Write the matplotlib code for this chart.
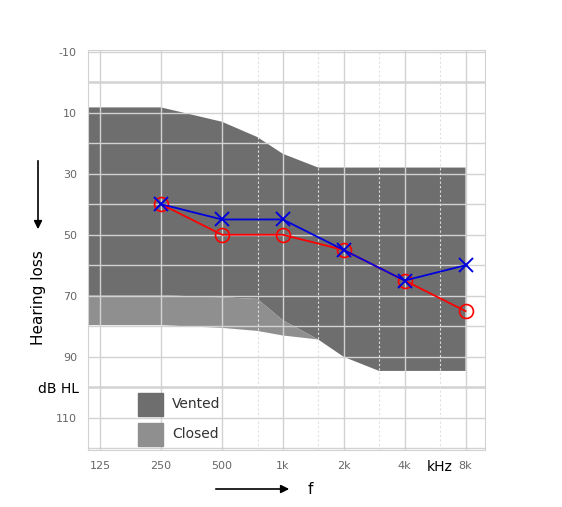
import numpy as np
import matplotlib.pyplot as plt
from matplotlib.patches import FancyArrowPatch

freq_labels = ["125", "250", "500", "1k", "2k", "4k", "8k"]
db_ticks = [-10, 10, 30, 50, 70, 90, 110]

# audiogram points (octave index, dB HL)
red_x = [1, 2, 3, 4, 5, 6]
red_db = [40, 50, 50, 55, 65, 75]
blue_x = [1, 2, 3, 4, 5, 6]
blue_db = [40, 45, 45, 55, 65, 60]

# fitting ranges
vent_top_x = [-0.2, 1, 2, 2.58, 3, 3.58, 6]
vent_top_db = [8.3, 8.3, 13, 18, 23.5, 28, 28]
vent_bot_x = [6, 4.58, 4, 3.58, 3, 2.58, 2, 1, -0.2]
vent_bot_db = [94.6, 94.6, 90, 84.3, 78, 71, 70.5, 69.8, 69.8]
closed_bot_x = [-0.2, 1, 2, 2.58, 3, 3.58]
closed_bot_db = [79.6, 79.6, 80.5, 81.5, 83, 84.3]

fig = plt.figure(figsize=(5.62, 5.07), dpi=100)
ax = fig.add_axes([88/562, 1-450/507, (485-88)/562, 400/507])
ax.set_xlim(-0.2, 6.32)
ax.set_ylim(120.5, -10.5)

ax.fill(vent_top_x + vent_bot_x, vent_top_db + vent_bot_db, color="#6e6e6e", lw=0, zorder=1)
cx = vent_bot_x[3:][::-1]
cd = vent_bot_db[3:][::-1]
ax.fill(cx + closed_bot_x[::-1], cd + closed_bot_db[::-1], color="#8f8f8f", lw=0, zorder=1)

for d in range(-10, 121, 10):
    lw = 1.8 if d in (0, 100) else 1.0
    ax.axhline(d, color="#d2d2d2", lw=lw, zorder=2)
for i in range(7):
    ax.axvline(i, color="#d2d2d2", lw=1.0, zorder=2)
for i in [2.585, 3.585, 4.585, 5.585]:
    ax.axvline(i, color="#e0e0e0", lw=0.8, ls=(0, (2, 2)), zorder=2)

ax.plot(red_x, red_db, color="red", lw=1.3, marker="o", ms=10, mfc="none", mew=1.2, zorder=3)
ax.plot(blue_x, blue_db, color="#0000dd", lw=1.3, marker="x", ms=10, mew=1.4, zorder=4)

ax.set_xticks(range(7))
ax.set_xticklabels(freq_labels, color="#666666", fontsize=8)
ax.set_yticks(db_ticks)
ax.set_yticklabels([str(t) for t in db_ticks], color="#666666", fontsize=8)
ax.tick_params(length=0, pad=8)
for s in ax.spines.values():
    s.set_color("#d2d2d2")

fig.text(440/562, 1-467/507, "kHz", fontsize=10, ha="center", va="center")
fig.text(58/562, 1-389/507, "dB HL", fontsize=10, ha="center", va="center")
fig.text(38/562, 1-298/507, "Hearing loss", fontsize=11, rotation=90, ha="center", va="center")
fig.text(310/562, 1-489/507, "f", fontsize=11, ha="center", va="center")
fig.add_artist(FancyArrowPatch((38/562, 1-158/507), (38/562, 1-232/507), transform=fig.transFigure,
                               arrowstyle="-|>", mutation_scale=12, color="black", lw=1.2))
fig.add_artist(FancyArrowPatch((213/562, 1-489/507), (292/562, 1-489/507), transform=fig.transFigure,
                               arrowstyle="-|>", mutation_scale=12, color="black", lw=1.2))

# legend
for y0, col, lab in [(393, "#6e6e6e", "Vented"), (423, "#8f8f8f", "Closed")]:
    fig.patches.append(plt.Rectangle((138/562, 1-(y0+23)/507), 25/562, 23/507,
                                     transform=fig.transFigure, color=col, zorder=5))
    fig.text(172/562, 1-(y0+11)/507, lab, fontsize=10, color="#333333", va="center")

fig.savefig("out.png")
